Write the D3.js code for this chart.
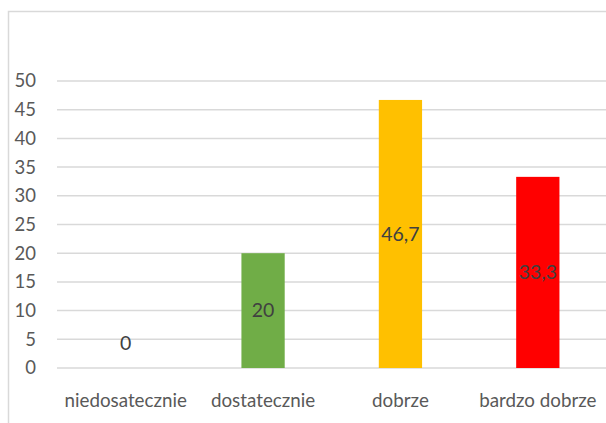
<!DOCTYPE html>
<html>
<head>
<meta charset="utf-8">
<script src="https://cdn.jsdelivr.net/npm/d3@7/dist/d3.min.js"></script>
<style>
  html, body { margin: 0; padding: 0; background: #fff; }
  svg { display: block; }
  text { font-family: Lato, "Open Sans", sans-serif; }
</style>
</head>
<body>
<script>
// Grades and their share (%)
const categories = ["niedosatecznie", "dostatecznie", "dobrze", "bardzo dobrze"];
const values = [0, 20, 46.7, 33.3];
const labels = ["0", "20", "46,7", "33,3"];
const colors = ["#4472c4", "#70ad47", "#ffc000", "#ff0000"];
const yTicks = [0, 5, 10, 15, 20, 25, 30, 35, 40, 45, 50];

const W = 606, H = 423;
const margin = { left: 57, right: -0.5, top: 81, bottom: H - 368 };

const svg = d3.select("body").append("svg")
  .attr("width", W).attr("height", H);

// chart area frame
svg.append("rect")
  .attr("x", 8.5).attr("y", 11.5)
  .attr("width", W + 10).attr("height", H + 10)
  .attr("fill", "none").attr("stroke", "#d9d9d9").attr("stroke-width", 1.5);

const x = d3.scaleBand()
  .domain(categories)
  .range([margin.left, W - margin.right])
  .padding(0);

const y = d3.scaleLinear()
  .domain([0, 50])
  .range([H - margin.bottom, margin.top]);

// horizontal gridlines
svg.append("g")
  .selectAll("line")
  .data(yTicks)
  .join("line")
  .attr("x1", margin.left).attr("x2", W)
  .attr("y1", d => y(d)).attr("y2", d => y(d))
  .attr("stroke", "#d9d9d9").attr("stroke-width", 1.5);

// y axis labels
const yAxis = d3.axisLeft(y).tickValues(yTicks).tickSize(0).tickPadding(0);
const gy = svg.append("g")
  .attr("transform", `translate(36,0)`)
  .call(yAxis);
gy.select(".domain").remove();
gy.selectAll("text")
  .attr("fill", "#595959")
  .style("font-size", "18.5px")
  .style("font-family", "Lato, 'Open Sans', sans-serif");

// bars
const barW = x.bandwidth() * 0.315;
svg.append("g")
  .selectAll("rect")
  .data(values)
  .join("rect")
  .attr("x", (d, i) => x(categories[i]) + x.bandwidth() / 2 - barW / 2)
  .attr("y", d => y(d))
  .attr("width", barW)
  .attr("height", d => y(0) - y(d))
  .attr("fill", (d, i) => colors[i]);

// value labels, centred inside the bars
svg.append("g")
  .selectAll("text")
  .data(values)
  .join("text")
  .attr("x", (d, i) => x(categories[i]) + x.bandwidth() / 2)
  .attr("y", d => d === 0 ? y(0) - 25 : (y(d) + y(0)) / 2)
  .attr("dy", "0.35em")
  .attr("text-anchor", "middle")
  .attr("fill", "#404040")
  .style("font-size", "19.5px")
  .text((d, i) => labels[i]);

// category labels
const xAxis = d3.axisBottom(x).tickSize(0).tickPadding(0);
const gx = svg.append("g")
  .attr("transform", `translate(0,${y(0) + 26})`)
  .call(xAxis);
gx.select(".domain").remove();
gx.selectAll("text")
  .attr("fill", "#595959")
  .style("font-size", "18.8px")
  .style("font-family", "Lato, 'Open Sans', sans-serif");
</script>
</body>
</html>
